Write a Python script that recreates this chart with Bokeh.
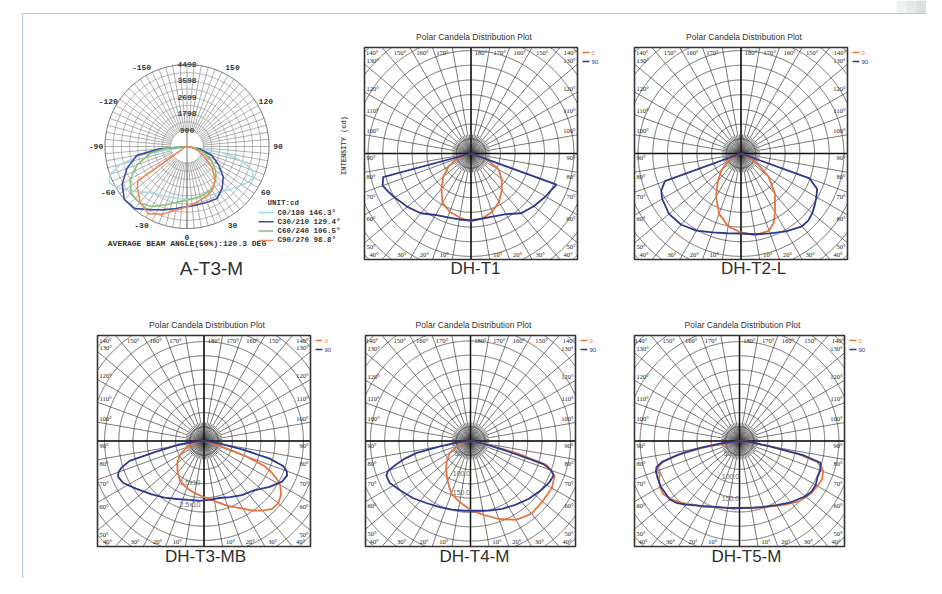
import numpy as np
from bokeh.plotting import figure
from bokeh.models import Range1d
from bokeh.core.properties import value
from bokeh.embed import file_html
from bokeh.resources import INLINE

# ---------------------------------------------------------------- data
# A-T3-M : candela vs. angle from nadir (deg, negative = left half)
A_MAX = 4498
A_RING_VALUES = [900, 1798, 2699, 3598, 4498]
A_ANGLE_TICKS = [-150, -120, -90, -60, -30, 0, 30, 60, 90, 120, 150]
A_SERIES = ["C0/180", "C30/210", "C60/240", "C90/270"]
A_BEAM = ["146.3°", "129.4°", "106.5°", "98.8°"]
A_AVG = "AVERAGE BEAM ANGLE(50%):120.3 DEG"
A_C0_ANG = [-90, -80, -75, -70, -65, -60, -50, -40, -30, -20, -10, 0, 10, 20, 30, 40, 50, 60, 65, 70, 75, 80, 90]
A_C0_CD = [0, 2400, 3800, 4500, 4700, 4500, 3800, 3300, 3050, 2950, 2900, 2900, 2900, 2950, 3000, 3200, 3500, 3900, 4000, 3800, 3200, 2000, 0]
A_C30_ANG = [-90, -85, -80, -70, -60, -50, -40, -30, -20, -10, 0, 10, 20, 30, 40, 50, 60, 70, 80, 90]
A_C30_CD = [0, 1500, 2800, 3500, 4100, 4500, 4450, 4000, 3700, 3450, 3300, 3250, 3250, 3300, 3000, 2600, 2000, 1450, 700, 0]
A_C60_ANG = [-90, -85, -80, -70, -60, -50, -40, -30, -20, -10, 0, 10, 20, 30, 40, 50, 60, 70, 80, 90]
A_C60_CD = [0, 1200, 2000, 2900, 3600, 4000, 4050, 3800, 3400, 3100, 2950, 2850, 2800, 2700, 2450, 2050, 1550, 1000, 450, 0]
A_C90_ANG = [-90, -70, -60, -55, -50, -40, -30, -20, -10, 0, 10, 20, 30, 40, 50, 60, 70, 80, 90]
A_C90_CD = [0, 150, 300, 3300, 3550, 4000, 4250, 3950, 3550, 3300, 3100, 2950, 2780, 2400, 1800, 1100, 600, 250, 0]

# DH panels : relative intensity (grid-ring units x 14.5) vs angle from nadir
T1_ANG0 = [-90, -70, -60, -50, -40, -30, -20, -10, 0, 10, 20, 30, 40, 50, 60, 70, 90]
T1_I0 = [0, 15, 26, 36, 46, 57, 62, 65, 68, 66, 62, 56, 48, 40, 32, 17, 0]
T1_ANG90 = [-90, -75, -70, -65, -60, -50, -40, -30, -20, -10, 0, 10, 20, 30, 40, 50, 60, 65, 70, 90]
T1_I90 = [0, 91, 94, 91, 88, 83, 78, 71, 68, 67, 67, 66, 67, 70, 78, 82, 86, 88, 91, 0]

T2_ANG0 = [-90, -70, -60, -50, -40, -30, -20, -10, 0, 10, 20, 25, 30, 40, 50, 60, 70, 90]
T2_I0 = [0, 5, 15, 25, 36, 50, 64, 74, 79, 83, 82, 77, 68, 53, 36, 17, 6, 0]
T2_ANG90 = [-90, -70, -65, -60, -50, -40, -30, -20, -10, 0, 10, 20, 30, 40, 45, 50, 55, 60, 65, 70, 90]
T2_I90 = [0, 81, 88, 91, 94, 93, 89, 84, 81, 80, 82, 85, 90, 95, 95, 93, 90, 87, 84, 73, 0]

T3_ANG0 = [-90, -80, -70, -60, -50, -40, -30, -20, -10, 0, 10, 20, 30, 35, 40, 45, 50, 55, 60, 62.5, 65, 67.5, 70, 72.5, 90]
T3_I0 = [0, 8, 18, 28, 35, 41, 47, 50, 53, 56, 61, 69, 78, 85, 91, 96, 97, 94, 88, 82, 75, 65, 45, 20, 0]
T3_ANG90 = [-90, -85, -82, -77, -75, -72, -70, -67.5, -65, -62.5, -55, -45, -35, -25, -15, -5, 5, 15, 25, 35, 45, 55, 62.5, 67.5, 70, 72.5, 75, 77.5, 80, 85, 90]
T3_I90 = [0, 10, 25, 52, 77, 87, 91, 93, 92, 91, 83, 75, 69, 64, 61, 60, 59, 59, 62, 66, 70, 80, 88, 90, 88, 83, 68, 40, 18, 6, 0]

T4_ANG0 = [-90, -80, -70, -60, -50, -40, -30, -20, -10, 0, 10, 20, 30, 40, 50, 60, 67.5, 72.5, 75, 77.5, 80, 90]
T4_I0 = [0, 6, 14, 24, 31, 38, 46, 56, 62, 69, 75, 83, 91, 95, 94, 94, 91, 80, 50, 20, 8, 0]
T4_ANG90 = [-90, -85, -80, -77.5, -75, -72.5, -70, -67.5, -62.5, -55, -45, -35, -25, -15, -5, 5, 15, 25, 35, 45, 55, 62.5, 67.5, 70, 72.5, 75, 77.5, 80, 85, 90]
T4_I90 = [0, 10, 30, 55, 68, 78, 88, 91, 91, 86, 81, 76, 73, 71, 70, 70, 72, 75, 78, 82, 86, 89, 90, 86, 76, 35, 15, 8, 3, 0]

T5_ANG0 = [-90, -80, -77.5, -75, -72.5, -70, -67.5, -65, -60, -55, -50, -45, -40, -35, -30, -25, -20, -15, -10, -5, 0, 5, 10, 15, 20, 25, 30, 35, 40, 45, 50, 55, 60, 65, 70, 72.5, 75, 77.5, 80, 85, 90]
T5_I0 = [0, 35, 60, 78, 85, 88, 86, 89, 92, 93, 90, 86, 82, 78, 76, 73, 70, 69, 68, 68, 67, 67, 68, 69, 71, 72, 75, 78, 81, 85, 87, 89, 90, 91, 89, 86, 80, 60, 30, 8, 0]
T5_ANG90 = [-90, -82.5, -80, -77.5, -75, -72.5, -70, -65, -60, -50, -45, -40, -30, -20, -10, 0, 10, 20, 30, 40, 50, 55, 60, 65, 70, 75, 77.5, 80, 85, 90]
T5_I90 = [0, 20, 40, 62, 80, 87, 89, 90, 91, 91, 88, 83, 75, 70, 68, 67, 68, 70, 74, 80, 86, 88, 88, 86, 86, 84, 65, 30, 10, 0]

T3_RING_LABELS = ["1.5x10", "2.5x10"]
T4_RING_LABELS = ["50.0", "100.0", "150.0"]
T5_RING_LABELS = ["50.0", "100.0", "150.0"]
DH_LEGEND = ["0", "90"]
DH_TITLE = "Polar Candela Distribution Plot"

# ---------------------------------------------------------------- style / layout
ORANGE = "#e8743b"
BLUE = "#2b3990"
A_COLORS = ["#a6dbe2", "#3b4d9e", "#86c274", "#f0885c"]
GRID = "#404040"
TXT = "#333333"

p = figure(width=926, height=578, x_range=Range1d(0, 926), y_range=Range1d(578, 0),
           output_backend="svg", toolbar_location=None, min_border=0,
           x_axis_location=None, y_axis_location=None)
p.grid.visible = False
p.outline_line_color = None
p.background_fill_color = "white"

# page decoration: gray edge and thin teal frame
for i, c in enumerate(["#f1f3f3", "#e6e9e9", "#dcdfdf"]):
    p.quad(left=[896 + 10 * i], right=[926], top=[0], bottom=[578], fill_color=c, line_color=None)
p.quad(left=[22], right=[930], top=[13], bottom=[600], fill_color="white",
       line_color="#a9d3d4", line_width=1.2)


def polar_xy(cx, cy, ang, r):
    a = np.radians(np.asarray(ang, float))
    r = np.asarray(r, float)
    return cx + r * np.sin(a), cy + r * np.cos(a)


def clip_runs(xs, ys, x0, x1, y0, y1):
    inside = (xs >= x0) & (xs <= x1) & (ys >= y0) & (ys <= y1)
    runs, cur = [], []
    for x, y, ok in zip(xs, ys, inside):
        if ok:
            cur.append((x, y))
        else:
            if len(cur) > 1:
                runs.append(cur)
            cur = []
    if len(cur) > 1:
        runs.append(cur)
    if len(runs) > 1 and inside[0] and inside[-1]:
        runs[0] = runs[-1] + runs[0]
        runs.pop()
    return runs


def txt(x, y, s, size, align="center", base="middle", font="Liberation Sans",
        style="normal", color=TXT, angle=0.0):
    p.text(x=x, y=y, text=s, text_font=value(font), text_font_size=size,
           text_align=align, text_baseline=base, text_font_style=style,
           text_color=color, angle=angle)


# ---------------------------------------------------------------- panel A
acx, acy, aR = 186.5, 146.0, 82.0
ascale = aR / A_MAX
t = np.linspace(0, 2 * np.pi, 721)
rx, ry = [], []
for k in range(2, 10):
    r = aR * k / 10
    rx.append(list(acx + r * np.cos(t)))
    ry.append(list(acy + r * np.sin(t)))
p.multi_line(rx, ry, line_color="#8e8e8e", line_width=0.7)
sx, sy = [], []
for a in range(0, 360, 5):
    x, y = polar_xy(acx, acy, [a, a], [aR * 0.2, aR])
    sx.append(list(x))
    sy.append(list(y))
p.multi_line(sx, sy, line_color="#8e8e8e", line_width=0.7)
p.line(list(acx + aR * np.cos(t)), list(acy + aR * np.sin(t)), line_color="#666666", line_width=1.0)
p.line([acx, acx], [acy - aR * 0.2, acy + aR], line_color="#707070", line_width=0.9)

for ang, cd, col in zip([A_C0_ANG, A_C30_ANG, A_C60_ANG, A_C90_ANG],
                        [A_C0_CD, A_C30_CD, A_C60_CD, A_C90_CD], A_COLORS):
    x, y = polar_xy(acx, acy, ang, np.asarray(cd) * ascale)
    p.line(list(x), list(y), line_color=col, line_width=1.6)

txt([acx] * len(A_RING_VALUES), [acy - v * ascale for v in A_RING_VALUES],
    [str(v) for v in A_RING_VALUES], "8px", font="Liberation Mono", style="bold", color="#444444")
lx, ly = polar_xy(acx, acy, A_ANGLE_TICKS, [aR + 9] * len(A_ANGLE_TICKS))
txt(list(lx), list(ly), [str(v) for v in A_ANGLE_TICKS], "8px", font="Liberation Mono",
    style="bold", color="#333333")
txt([acx], [243], [A_AVG], "8px", font="Liberation Mono", style="bold", color="#333333")
txt([267], [202], ["UNIT:cd"], "7.5px", align="left", font="Liberation Mono", style="bold")
for i, (s, b, col) in enumerate(zip(A_SERIES, A_BEAM, A_COLORS)):
    yy = 212 + i * 9.3
    p.line([258, 273], [yy, yy], line_color=col, line_width=1.5)
    txt([277], [yy], [f"{s} {b}"], "7.5px", align="left", font="Liberation Mono", style="bold")

txt([343], [145], ["INTENSITY (cd)"], "7px", font="Liberation Mono", style="bold",
    color="#555555", angle=np.pi / 2)

# ---------------------------------------------------------------- DH panels
PANELS = [
    dict(frame=(364, 47, 577, 259), ring=14.7, a0=T1_ANG0, i0=T1_I0, a90=T1_ANG90, i90=T1_I90,
         labels=[], lab_r=[], lab_dx=0),
    dict(frame=(634, 47, 847, 259), ring=14.7, a0=T2_ANG0, i0=T2_I0, a90=T2_ANG90, i90=T2_I90,
         labels=[], lab_r=[], lab_dx=0),
    dict(frame=(97, 335, 310, 546), ring=14.2, a0=T3_ANG0, i0=T3_I0, a90=T3_ANG90, i90=T3_I90,
         labels=T3_RING_LABELS, lab_r=[41, 63], lab_dx=-14),
    dict(frame=(365, 335, 575, 546), ring=14.3, a0=T4_ANG0, i0=T4_I0, a90=T4_ANG90, i90=T4_I90,
         labels=T4_RING_LABELS, lab_r=[12, 32, 51], lab_dx=-9),
    dict(frame=(634, 335, 844, 546), ring=14.2, a0=T5_ANG0, i0=T5_I0, a90=T5_ANG90, i90=T5_I90,
         labels=T5_RING_LABELS, lab_r=[12, 35, 57], lab_dx=-9),
]

tt = np.linspace(0, 2 * np.pi, 2401)
for P in PANELS:
    x0, y0, x1, y1 = P["frame"]
    cx, cy = (x0 + x1) / 2, (y0 + y1) / 2
    hw, hh = (x1 - x0) / 2, (y1 - y0) / 2
    rs = P["ring"]
    # rings
    mx, my = [], []
    for k in range(1, 12):
        r = k * rs
        for run in clip_runs(cx + r * np.cos(tt), cy + r * np.sin(tt), x0, x1, y0, y1):
            mx.append([q[0] for q in run])
            my.append([q[1] for q in run])
    p.multi_line(mx, my, line_color=GRID, line_width=0.8)
    # radial lines
    mx, my = [], []
    for a in range(0, 360, 10):
        s, c = np.sin(np.radians(a)), np.cos(np.radians(a))
        tx = hw / abs(s) if abs(s) > 1e-9 else 1e9
        ty = hh / abs(c) if abs(c) > 1e-9 else 1e9
        L = min(tx, ty)
        mx.append([cx, cx + L * s])
        my.append([cy, cy + L * c])
    for a in range(5, 360, 10):
        s, c = np.sin(np.radians(a)), np.cos(np.radians(a))
        mx.append([cx, cx + 1.3 * rs * s])
        my.append([cy, cy + 1.3 * rs * c])
    p.multi_line(mx, my, line_color=GRID, line_width=0.7)
    # axes + frame
    p.line([x0, x1], [cy, cy], line_color="#111111", line_width=1.5)
    p.line([cx, cx], [y0, y1], line_color="#111111", line_width=1.5)
    p.quad(left=[x0], right=[x1], top=[y0], bottom=[y1], fill_color=None,
           line_color="#333333", line_width=1.6)
    # angle labels around the frame
    lxs, lys, lts = [], [], []
    lxl, lyl, ltl = [], [], []
    lxr, lyr, ltr = [], [], []
    for th in range(10, 181, 10):
        for sgn in (-1, 1):
            if th == 180 and sgn == -1:
                continue
            lab = f"{th}\u00b0"
            if th <= 40:
                xi = cx + sgn * hh * np.tan(np.radians(th))
                lxs.append(xi + sgn * 8)
                lys.append(y1 - 5)
                lts.append(lab)
            elif th >= 140:
                xi = cx + sgn * hh * np.tan(np.radians(180 - th))
                lxs.append(xi + sgn * 10)
                lys.append(y0 + 5)
                lts.append(lab)
            else:
                yi = cy + hw / np.tan(np.radians(th))
                yl = yi + 4 if th <= 90 else yi - 4
                if sgn < 0:
                    lxl.append(x0 + 2); lyl.append(yl); ltl.append(lab)
                else:
                    lxr.append(x1 - 2); lyr.append(yl); ltr.append(lab)
    txt(lxs, lys, lts, "6.5px", font="Liberation Serif", color="#222222")
    txt(lxl, lyl, ltl, "6.5px", align="left", font="Liberation Serif", color="#222222")
    txt(lxr, lyr, ltr, "6.5px", align="right", font="Liberation Serif", color="#222222")
    # ring value labels
    if P["labels"]:
        txt([cx + P["lab_dx"]] * len(P["labels"]), [cy + r for r in P["lab_r"]], P["labels"],
            "7px", color="#666666")
    # curves
    x, y = polar_xy(cx, cy, P["a0"], P["i0"])
    p.line(list(x), list(y), line_color=ORANGE, line_width=1.8)
    x, y = polar_xy(cx, cy, P["a90"], P["i90"])
    p.line(list(x), list(y), line_color=BLUE, line_width=1.8)
    # title + legend
    txt([cx + 3], [y0 - 11], [DH_TITLE], "8.5px", color="#333333")
    for j, (lab, col) in enumerate(zip(DH_LEGEND, [ORANGE, BLUE])):
        yy = y0 + 5 + 9 * j
        p.line([x1 + 5, x1 + 12], [yy, yy], line_color=col, line_width=1.5)
        txt([x1 + 14], [yy], [lab], "6px", align="left", color=col)

# ---------------------------------------------------------------- captions
CAPTIONS = ["DH-T1", "DH-T2-L", "DH-T3-MB", "DH-T4-M", "DH-T5-M"]
CAP_X = [475, 753, 205, 474, 746]
CAP_Y = [268, 268, 556, 556, 556]
txt(CAP_X, CAP_Y, CAPTIONS, "17px", color="#2f2f2f")
txt([211], [268], ["A-T3-M"], "19px", color="#2f2f2f")

open("out.html", "w").write(file_html(p, INLINE))
